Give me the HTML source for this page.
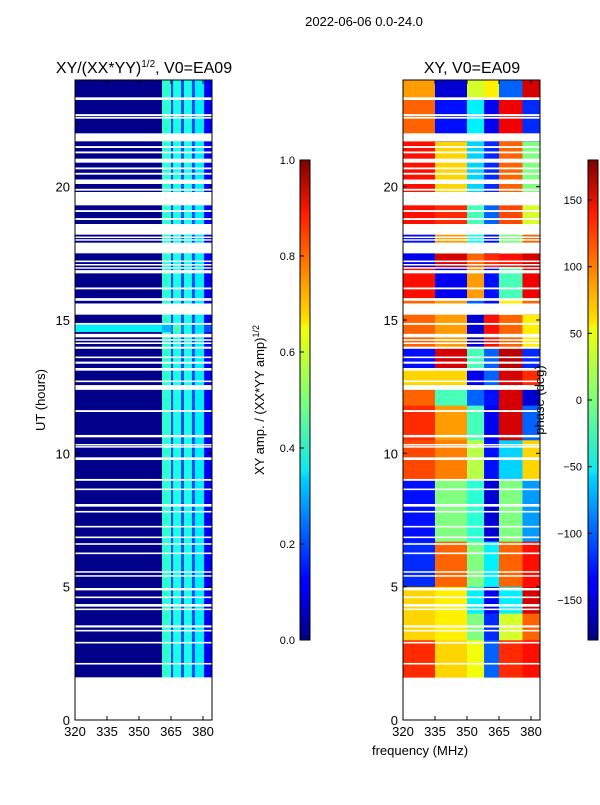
<!DOCTYPE html>
<html><head><meta charset="utf-8">
<style>
html,body{margin:0;padding:0;background:#fff;}
svg text{font-family:"Liberation Sans","DejaVu Sans",sans-serif;fill:#000;}
</style></head>
<body>
<svg id="fig" width="600" height="800" xmlns="http://www.w3.org/2000/svg">
<defs>
<linearGradient id="jet" x1="0" y1="1" x2="0" y2="0">
<stop offset="0" stop-color="#00007f"/><stop offset="0.11" stop-color="#0000ff"/>
<stop offset="0.125" stop-color="#0000ff"/><stop offset="0.34" stop-color="#00d4ff"/>
<stop offset="0.35" stop-color="#0de6f0"/><stop offset="0.5" stop-color="#7dff7a"/>
<stop offset="0.65" stop-color="#f0ff0a"/><stop offset="0.66" stop-color="#ffe600"/>
<stop offset="0.89" stop-color="#ff1a00"/><stop offset="1" stop-color="#7f0000"/>
</linearGradient>
</defs>
<text x="364" y="26" font-size="13" text-anchor="middle">2022-06-06 0.0-24.0</text>
<g id="left"></g>
<g id="right"></g>
<text x="144" y="73" font-size="16" text-anchor="middle">XY/(XX*YY)<tspan font-size="10" dy="-6">1/2</tspan><tspan dy="6">, V0=EA09</tspan></text>
<text x="472" y="73" font-size="16" text-anchor="middle">XY, V0=EA09</text>
<text x="45" y="400" font-size="13" text-anchor="middle" transform="rotate(-90 45 400)">UT (hours)</text>
<text x="420" y="755" font-size="13" text-anchor="middle">frequency (MHz)</text>
<rect x="300" y="160" width="10" height="480" fill="url(#jet)" stroke="#000" stroke-width="1"/>
<rect x="588" y="160" width="10" height="480" fill="url(#jet)" stroke="#000" stroke-width="1"/>
<text x="264" y="400" font-size="13" text-anchor="middle" transform="rotate(-90 264 400)">XY amp. / (XX*YY amp)<tspan font-size="9" dy="-5">1/2</tspan></text>
<text x="544" y="400" font-size="13" text-anchor="middle" transform="rotate(-90 544 400)">phase (deg)</text>
<g id="cb"></g>
</svg>
<script>
const gapHours=[[23.25,23.35],[22.65,22.72],[22.55,22.62],[21.7,22.0],[21.45,21.52],[21.25,21.32],[20.9,21.05],[20.65,20.72],[20.45,20.52],[20.1,20.27],[19.85,19.92],[19.3,19.8],[19.05,19.12],[18.75,18.82],[18.2,18.6],[18.08,18.13],[17.98,18.03],[17.5,17.9],[17.17,17.23],[17.05,17.1],[16.93,16.98],[16.75,16.87],[16.15,16.22],[15.72,15.82],[15.2,15.62],[14.82,14.89],[14.35,14.48],[14.22,14.28],[14.1,14.16],[13.92,14.0],[13.57,13.63],[13.36,13.44],[13.1,13.2],[12.67,12.73],[12.38,12.56],[11.55,11.62],[10.6,10.69],[10.3,10.35],[10.22,10.27],[9.75,9.85],[8.97,9.04],[8.62,8.68],[8.0,8.1],[7.78,7.84],[7.22,7.28],[6.82,6.88],[6.57,6.63],[6.22,6.28],[5.53,5.58],[5.38,5.43],[4.86,4.95],[4.57,4.63],[4.25,4.35],[4.12,4.18],[3.47,3.55],[3.32,3.38],[2.87,2.93],[2.08,2.14]];
const dataStart=1.6, dataEnd=24;
const ampFreqEdges=[320,360.8,365,366,369.7,371.1,374.8,376.2,380.5,384.2];
const ampValues=[0.01,0.42,0.2,0.4,0.2,0.4,0.2,0.36,0.12];
const ampBandHours=[14.55,14.82];
const ampBandValues=[0.36,0.3,0.25,0.45,0.25,0.4,0.2,0.35,0.2];
const phaseFreqEdges=[320,335,350,358,365,376,384.2];
const phaseRowEdges=[1.6,3,4,5,6.7,9,10.5,11.8,12.5,13.2,14,15.2,15.8,17,17.5,18,18.6,19.3,19.8,21.7,22,23.3,24];
const phaseValues=[
[120,60,40,-100,120,130],[60,50,0,-120,30,100],[60,50,-50,-140,-50,150],[-120,100,0,-50,100,130],
[-130,0,-30,-150,0,-80],[110,90,20,-130,-60,60],[120,80,-20,-140,150,-100],[100,-20,-100,-130,150,-150],
[60,60,-140,-100,150,120],[-130,150,-20,-100,160,-120],[100,80,-150,130,100,50],[100,80,-100,-130,50,100],
[130,-140,80,-130,-20,140],[-140,150,100,120,130,150],[-130,80,-40,-130,0,100],[-130,80,-40,-130,0,100],
[130,120,-20,-100,110,30],[130,120,-20,-100,110,30],[130,60,-60,-120,100,0],[100,-130,-50,-140,140,-120],
[100,-130,-50,-140,140,-120],[80,-150,30,50,-100,150]];
const ampTicks=[0,0.2,0.4,0.6,0.8,1.0];
const phaseTicks=[-150,-100,-50,0,50,100,150];
const xTicks=[320,335,350,365,380];
const yTicks=[0,5,10,15,20];

const NS='http://www.w3.org/2000/svg';
const T=720,TOP=80;
function yS(h){return T-(h/24)*(T-TOP);}
function xS(f,x0){return x0+(f-320)*32/15;}
function jet(v){v=Math.max(0,Math.min(1,v));
 const c=x=>Math.round(255*Math.max(0,Math.min(1,1.5-Math.abs(4*v-x))));
 return `rgb(${c(3)},${c(2)},${c(1)})`;}
function mk(tag,at,par){const e=document.createElementNS(NS,tag);for(const k in at)e.setAttribute(k,at[k]);par.appendChild(e);return e;}
const L=document.getElementById('left'),R=document.getElementById('right'),CB=document.getElementById('cb');
for(let i=0;i<ampValues.length;i++){
 const x0=xS(ampFreqEdges[i],75),x1=xS(ampFreqEdges[i+1],75);
 const r=mk('rect',{x:x0,y:yS(dataEnd),width:x1-x0+0.3,height:yS(dataStart)-yS(dataEnd),fill:jet(ampValues[i])},L);
 
 
 const b=mk('rect',{x:x0,y:yS(ampBandHours[1]),width:x1-x0+0.3,height:yS(ampBandHours[0])-yS(ampBandHours[1]),fill:jet(ampBandValues[i])},L);
 
 
}
for(let j=0;j<phaseValues.length;j++){
 for(let i=0;i<phaseValues[j].length;i++){
  const x0=xS(phaseFreqEdges[i],403),x1=xS(phaseFreqEdges[i+1],403);
  const y0=yS(phaseRowEdges[j+1]),y1=yS(phaseRowEdges[j]);
  const r=mk('rect',{x:x0,y:y0,width:x1-x0+0.3,height:y1-y0+0.3,fill:jet((phaseValues[j][i]+180)/360)},R);
  
  
 }
}
for(const [par,x0] of [[L,75],[R,403]]){
 for(const gp of gapHours){
  const r=mk('rect',{x:x0,y:yS(gp[1]),width:137,height:Math.max(1.5,yS(gp[0])-yS(gp[1])),fill:'#fff'},par);
  
  
 }
}
for(const [par,x0] of [[L,75],[R,403]]){
 const f=mk('rect',{x:x0,y:TOP,width:137,height:T-TOP,fill:'none',stroke:'#000','stroke-width':1},par);
 
 
 for(const t of xTicks){const x=xS(t,x0);
  mk('line',{x1:x,x2:x,y1:T,y2:T-4,stroke:'#000'},par);mk('line',{x1:x,x2:x,y1:TOP,y2:TOP+4,stroke:'#000'},par);
  const tx=mk('text',{x:x,y:T+16,'font-size':13,'text-anchor':'middle'},par);tx.textContent=t;
  
  }
 for(const t of yTicks){const y=yS(t);
  mk('line',{x1:x0,x2:x0+4,y1:y,y2:y,stroke:'#000'},par);mk('line',{x1:x0+137,x2:x0+133,y1:y,y2:y,stroke:'#000'},par);
  const tx=mk('text',{x:x0-5,y:y+5,'font-size':13,'text-anchor':'end'},par);tx.textContent=t;
  
  }
}
for(const t of ampTicks){const y=640-t*480;
 mk('line',{x1:300,x2:304,y1:y,y2:y,stroke:'#000'},CB);
 const tx=mk('text',{x:295,y:y+4,'font-size':11,'text-anchor':'end'},CB);tx.textContent=t.toFixed(1);
 
 }
for(const t of phaseTicks){const y=640-(t+180)/360*480;
 mk('line',{x1:588,x2:592,y1:y,y2:y,stroke:'#000'},CB);
 const tx=mk('text',{x:582,y:y+4,'font-size':11,'text-anchor':'end'},CB);tx.textContent=t<0?'\u2212'+(-t):t;
 
 }
</script>
</body></html>
